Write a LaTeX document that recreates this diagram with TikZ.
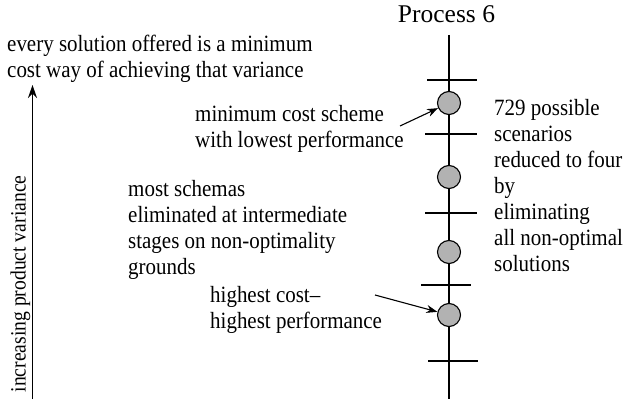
\documentclass[tikz,border=0pt]{standalone}
\usepackage{fontspec}
\setmainfont[FakeStretch=0.9]{Liberation Serif}
\newfontfamily\plainserif{Liberation Serif}
\usetikzlibrary{arrows.meta}
\begin{document}
\begin{tikzpicture}[x=1pt,y=-1pt,
  txt/.style={inner sep=0pt,align=left,font=\fontsize{23.3}{26}\selectfont},
  tick/.style={line width=1.1pt},
  ball/.style={circle,draw,line width=1.1pt,fill=gray!60,minimum size=23pt,inner sep=0pt},
  arr/.style={-{Stealth[length=11pt,width=8pt]},line width=1.1pt}]
\useasboundingbox (0,0) rectangle (626,401);
% vertical process line
\coordinate (vtop) at (449,35);
\coordinate (vbot) at (449,399);
\draw[line width=1.3pt] (vtop) -- (vbot);
% ticks
\coordinate (t1a) at (427,80);  \coordinate (t1b) at (477,80);
\coordinate (t2a) at (425,134); \coordinate (t2b) at (477,134);
\coordinate (t3a) at (425,213); \coordinate (t3b) at (477,213);
\coordinate (t4a) at (421,285); \coordinate (t4b) at (471,285);
\coordinate (t5a) at (428,361); \coordinate (t5b) at (478,361);
\foreach \i in {1,...,5}{\draw[tick] (t\i a) -- (t\i b);}
% balls
\node[ball] (b1) at (449,103) {};
\node[ball] (b2) at (449,177) {};
\node[ball] (b3) at (449,252) {};
\node[ball] (b4) at (449,315) {};
% texts
\node[inner sep=0pt,anchor=base,font=\plainserif\fontsize{25.5}{28}\selectfont] (p6) at (446.5,22.7) {Process 6};
\node[txt,anchor=base west] (top) at (7,78) {every solution offered is a minimum\\cost way of achieving that variance};
\node[txt,anchor=base west] (mc) at (195,147) {minimum cost scheme\\with lowest performance};
\node[txt,anchor=base west] (ms) at (128,274) {most schemas\\eliminated at intermediate\\stages on non-optimality\\grounds};
\node[txt,anchor=base west] (hc) at (210,328) {highest cost--\\highest performance};
\node[txt,anchor=base west] (r) at (494,271) {729 possible\\scenarios\\reduced to four\\by\\eliminating\\all non-optimal\\solutions};
% left axis
\coordinate (ab) at (32.5,399);
\coordinate (at) at (32.5,85);
\draw[-{Stealth[length=13pt,width=9pt]},line width=1.5pt] (ab) -- (at);
\node[inner sep=0pt,rotate=90,anchor=base,font=\fontsize{21.8}{24}\selectfont] (ax) at (25.5,284) {increasing product variance};
% pointers
\coordinate (m1) at (400,126);
\draw[arr] (m1) -- (b1);
\coordinate (m2) at (375,295);
\draw[arr] (m2) -- (b4);
\end{tikzpicture}
\end{document}
